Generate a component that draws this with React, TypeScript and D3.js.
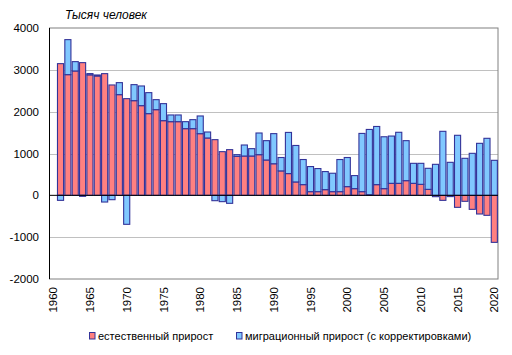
import React from "react";
import * as d3 from "d3";

const years: number[] = d3.range(1960, 2021);
const natural: (number | null)[] = [
  null, 3148, 2885, 2973, 3172, 2880, 2853, 2909, 2638, 2407,
  2311, 2263, 2144, 1953, 2048, 1785, 1761, 1761, 1594, 1594,
  1474, 1371, 1331, 1044, 1092, 932, 940, 940, 972, 845,
  755, 584, 520, 320, 256, 88, 88, 136, 88, 88,
  208, 160, 88, 15, 256, 160, 287, 287, 351, 287,
  263, 143, -32, -120, -30, -287, -143, -335, -446, -478,
  -1124,
];
const migration: (number | null)[] = [
  null, -120, 837, 223, -24, 30, 24, -160, -104, 287,
  -693, 383, 470, 502, 239, 407, 160, 160, 167, 215,
  423, 143, -128, -151, -191, 40, 263, 176, 518, 462,
  720, 320, 984, 872, 600, 600, 552, 432, 440, 768,
  696, 312, 1392, 1560, 1390, 1240, 1130, 1220, 956, 478,
  502, 503, 741, 1530, 789, 1435, 885, 1004, 1243, 1363,
  837,
];
const yTicks = [-2000, -1000, 0, 1000, 2000, 3000, 4000];
const xLabelYears = [1960, 1965, 1970, 1975, 1980, 1985, 1990, 1995, 2000, 2005, 2010, 2015, 2020];
const seriesNames = ["естественный прирост", "миграционный прирост (с корректировками)"];
const colors = ["#ff8080", "#80c8ff"];
const title = "Тысяч человек";

const W = 512, H = 355;
const left = 49.5, right = 498, top = 28, bottom = 279;
const font = "'Liberation Sans', Arial, sans-serif";

export default function App() {
  const x = d3.scaleBand<number>().domain(years).range([left, right]).paddingInner(0.17).paddingOuter(0.085);
  const y = d3.scaleLinear().domain([-2000, 4000]).range([bottom, top]);
  const rows = years.map((yr, i) => ({ year: yr, n: natural[i] ?? 0, m: migration[i] ?? 0, has: natural[i] !== null }));
  const stack = d3.stack<any>().keys(["n", "m"]).offset(d3.stackOffsetDiverging);
  const series = stack(rows);
  const bw = x.bandwidth();

  return (
    <svg width={W} height={H} style={{ position: "absolute", left: 0, top: 0, background: "#fff" }}>
      <rect x={0} y={0} width={W} height={H} fill="#fff" />
      {yTicks.filter(t => t !== 0 && t !== 4000 && t !== -2000).map(t => (
        <line key={t} x1={left} x2={right} y1={Math.round(y(t)) + 0.5} y2={Math.round(y(t)) + 0.5} stroke="#c0c0c0" strokeWidth={1} />
      ))}
      <rect x={left} y={top} width={right - left} height={bottom - top} fill="none" stroke="#808080" strokeWidth={1} />
      {series.map((s, si) => (
        <g key={si}>
          {s.map((d, i) => {
            if (!rows[i].has) return null;
            const y0 = y(d[0]), y1 = y(d[1]);
            const h = Math.abs(y0 - y1);
            if (h < 0.01) return null;
            return (
              <rect key={i} x={(x(rows[i].year) as number)} y={Math.min(y0, y1)} width={bw} height={h}
                fill={colors[si]} stroke="#333399" strokeWidth={1.1} />
            );
          })}
        </g>
      ))}
      <line x1={left} x2={right} y1={y(0)} y2={y(0)} stroke="#000" strokeWidth={1} />
      <line x1={left} x2={left} y1={top} y2={bottom} stroke="#000" strokeWidth={1} />
      {yTicks.map(t => (
        <text key={t} x={39} y={y(t)} dy="0.36em" textAnchor="end" fontFamily={font} fontSize={11.5} fill="#000">{t}</text>
      ))}
      {xLabelYears.map(yr => (
        <text key={yr} transform={`translate(${(x(yr) as number) + bw / 2},287) rotate(-90)`} textAnchor="end" dy="0.36em"
          fontFamily={font} fontSize={11.5} fill="#000">{yr}</text>
      ))}
      <text x={65} y={19} fontFamily={font} fontStyle="italic" fontSize={12} fill="#000">{title}</text>
      <g fontFamily={font} fontSize={11} fill="#000">
        <rect x={89.5} y={332.5} width={5.5} height={6.5} fill={colors[0]} stroke="#333399" strokeWidth={1} />
        <text x={98} y={339.5}>{seriesNames[0]}</text>
        <rect x={236.5} y={332.5} width={5.5} height={6.5} fill={colors[1]} stroke="#333399" strokeWidth={1} />
        <text x={245} y={339.5}>{seriesNames[1]}</text>
      </g>
    </svg>
  );
}
